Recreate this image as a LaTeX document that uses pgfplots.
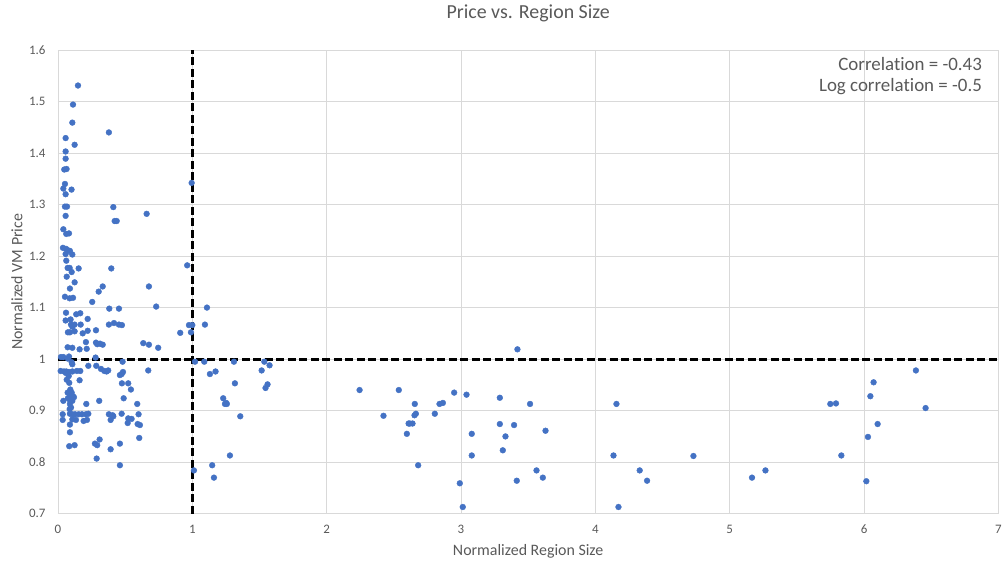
\documentclass[border=0pt]{standalone}
\usepackage{pgfplots}
\pgfplotsset{compat=1.18}
\usepackage{fontspec}
\setmainfont{Carlito}[Ligatures={NoCommon}]
\definecolor{ptblue}{HTML}{4472C4}
\definecolor{txtgray}{HTML}{595959}
\definecolor{gridgray}{HTML}{D9D9D9}
\begin{document}
\begin{tikzpicture}
\begin{axis}[
  at={(0,0)}, anchor=south west,
  scale only axis, width=941bp, height=464bp,
  xmin=0, xmax=7, ymin=0.7, ymax=1.6,
  xtick={0,1,...,7}, ytick={0.7,0.8,0.9,1.0,1.1,1.2,1.3,1.4,1.5,1.6},
  xticklabels={0,1,2,3,4,5,6,7},
  yticklabels={0.7,0.8,0.9,1,1.1,1.2,1.3,1.4,1.5,1.6},
  tick style={draw=none},
  grid=major, grid style={draw=gridgray, line width=0.8bp},
  axis line style={draw=gridgray, line width=0.8bp},
  ticklabel style={font=\fontsize{13}{15}\selectfont, text=txtgray},
  yticklabel style={anchor=east, xshift=-9bp},
  xticklabel style={anchor=north, yshift=-8bp},
  xlabel={Normalized Region Size}, ylabel={Normalized VM Price},
  label style={font=\fontsize{16}{19}\selectfont, text=txtgray},
  xlabel style={at={(axis description cs:0.5,0)}, anchor=center, yshift=-38bp},
  ylabel style={at={(axis description cs:0,0.5)}, anchor=center, yshift=41bp},
  title={Price vs. Region Size},
  title style={font=\fontsize{20}{23}\selectfont, text=txtgray, at={(axis description cs:0.5,1)}, anchor=center, yshift=31bp},
  clip=false,
]
\addplot[black, line width=2.8bp, dash pattern=on 8bp off 3.5bp] coordinates {(1,0.7) (1,1.6)};
\addplot[black, line width=2.8bp, dash pattern=on 8bp off 3.5bp] coordinates {(0,1) (7,1)};
\addplot[only marks, color=ptblue, mark=*, mark size=2.9bp, mark options={fill=ptblue, draw=none}] table {
x y
0.995 1.342
0.962 1.182
1.109 1.100
1.094 1.067
0.975 1.066
1.000 1.066
0.990 1.052
0.910 1.051
1.020 0.995
1.089 0.995
1.310 0.995
1.536 0.995
1.575 0.988
1.516 0.978
1.131 0.971
1.173 0.976
1.317 0.953
1.560 0.951
1.545 0.944
1.230 0.924
1.252 0.915
1.243 0.913
1.257 0.913
1.357 0.889
1.012 0.784
1.148 0.794
1.161 0.770
1.280 0.813
2.245 0.940
2.537 0.940
2.423 0.890
2.610 0.875
2.597 0.855
3.420 1.019
2.656 0.913
2.654 0.891
2.664 0.894
2.619 0.875
2.639 0.875
2.681 0.794
2.805 0.894
2.840 0.913
2.865 0.915
2.949 0.935
3.041 0.931
3.080 0.855
3.080 0.813
2.991 0.759
3.013 0.713
3.289 0.925
3.289 0.874
3.395 0.872
3.331 0.850
3.311 0.823
3.514 0.913
3.629 0.861
3.562 0.784
3.609 0.770
3.415 0.764
4.157 0.913
4.135 0.813
4.172 0.713
4.330 0.784
4.385 0.764
4.730 0.812
5.166 0.770
5.266 0.784
5.749 0.913
5.791 0.914
5.831 0.813
6.017 0.763
6.029 0.849
6.047 0.928
6.071 0.955
6.101 0.874
6.386 0.978
6.458 0.905
0.149 1.531
0.112 1.494
0.107 1.459
0.379 1.440
0.057 1.429
0.124 1.416
0.057 1.403
0.057 1.389
0.047 1.368
0.064 1.369
0.052 1.340
0.040 1.331
0.101 1.329
0.057 1.320
0.052 1.296
0.067 1.296
0.412 1.295
0.057 1.278
0.660 1.282
0.422 1.268
0.437 1.268
0.040 1.252
0.082 1.244
0.062 1.243
0.037 1.216
0.060 1.214
0.077 1.211
0.089 1.210
0.107 1.203
0.057 1.204
0.062 1.191
0.072 1.177
0.087 1.177
0.102 1.169
0.154 1.176
0.397 1.176
0.065 1.160
0.124 1.149
0.089 1.137
0.333 1.141
0.303 1.131
0.677 1.141
0.052 1.121
0.087 1.118
0.112 1.119
0.255 1.111
0.731 1.102
0.382 1.098
0.454 1.098
0.060 1.090
0.136 1.087
0.166 1.089
0.221 1.078
0.057 1.075
0.094 1.077
0.379 1.067
0.417 1.070
0.454 1.067
0.476 1.066
0.097 1.067
0.124 1.067
0.169 1.067
0.107 1.063
0.074 1.052
0.089 1.052
0.124 1.054
0.184 1.050
0.221 1.055
0.283 1.056
0.208 1.033
0.283 1.032
0.292 1.029
0.313 1.030
0.333 1.028
0.635 1.031
0.677 1.028
0.746 1.022
0.072 1.023
0.107 1.022
0.161 1.019
0.214 1.020
0.022 1.004
0.040 1.004
0.074 1.001
0.082 1.005
0.280 1.003
0.102 0.994
0.107 0.990
0.481 0.995
0.226 0.987
0.285 0.987
0.020 0.977
0.045 0.976
0.062 0.976
0.082 0.975
0.107 0.976
0.141 0.977
0.166 0.977
0.320 0.981
0.345 0.977
0.374 0.978
0.362 0.976
0.672 0.978
0.060 0.973
0.080 0.967
0.484 0.975
0.474 0.971
0.461 0.969
0.065 0.960
0.084 0.954
0.161 0.959
0.476 0.953
0.523 0.953
0.543 0.941
0.092 0.941
0.072 0.935
0.102 0.935
0.112 0.928
0.089 0.928
0.119 0.926
0.074 0.924
0.489 0.924
0.040 0.919
0.092 0.919
0.107 0.919
0.307 0.919
0.089 0.913
0.097 0.906
0.087 0.903
0.211 0.913
0.590 0.913
0.035 0.893
0.035 0.882
0.089 0.894
0.107 0.893
0.127 0.893
0.154 0.893
0.179 0.893
0.208 0.893
0.226 0.894
0.379 0.893
0.412 0.889
0.392 0.882
0.407 0.891
0.474 0.894
0.523 0.885
0.519 0.876
0.548 0.884
0.600 0.893
0.593 0.874
0.610 0.872
0.107 0.883
0.134 0.882
0.191 0.880
0.216 0.882
0.089 0.873
0.089 0.858
0.605 0.847
0.310 0.844
0.275 0.836
0.292 0.833
0.084 0.831
0.124 0.833
0.392 0.825
0.461 0.836
0.288 0.807
0.461 0.794
};
\node[anchor=east, font=\fontsize{19}{22}\selectfont, text=txtgray] at (rel axis cs:1,1) [xshift=-13bp, yshift=-14bp] {Correlation = -0.43};
\node[anchor=east, font=\fontsize{19}{22}\selectfont, text=txtgray] at (rel axis cs:1,1) [xshift=-13bp, yshift=-37bp] {Log correlation = -0.5};
\end{axis}
\path[use as bounding box] (-58bp,-50bp) rectangle (947bp,514bp);
\end{tikzpicture}
\end{document}
